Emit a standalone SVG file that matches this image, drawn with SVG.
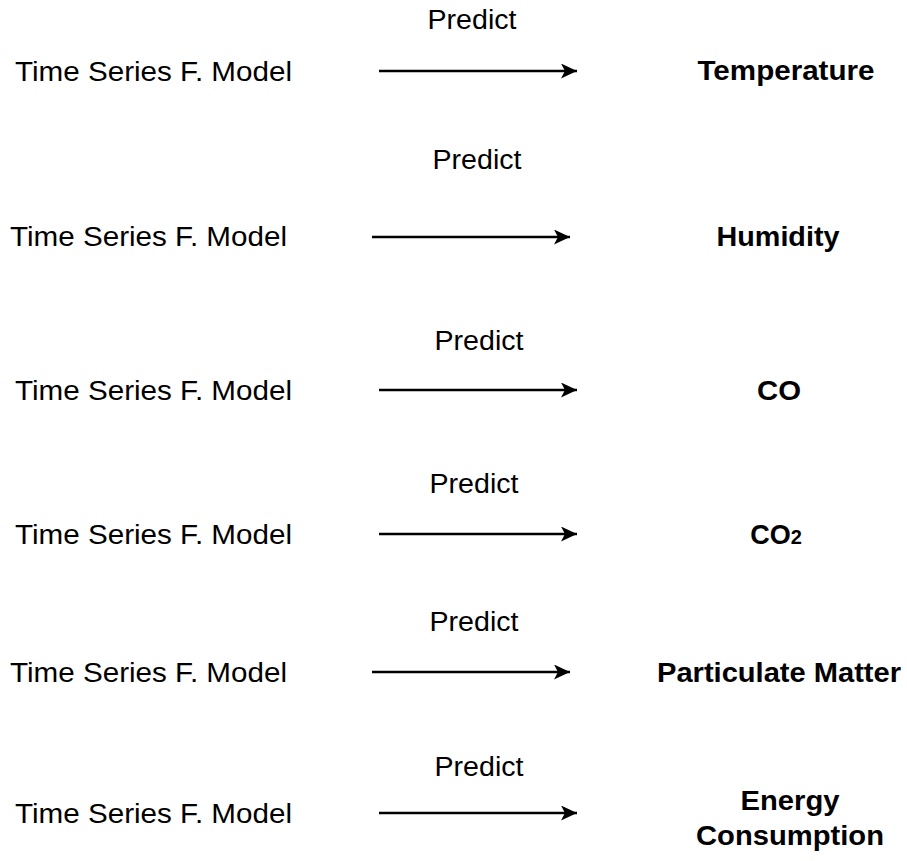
<svg xmlns="http://www.w3.org/2000/svg" width="907" height="861" viewBox="0 0 907 861">
<style>
text{font-family:"Liberation Sans",Arial,sans-serif;font-size:27px;fill:#000}
.b{font-weight:bold;text-anchor:middle}
.p{text-anchor:middle}
.c{stroke:#000;stroke-width:2.5;fill:none}
</style>
<defs>
<marker id="ah" markerWidth="17" markerHeight="15" refX="16" refY="7.5" orient="auto" markerUnits="userSpaceOnUse">
<path d="M0,0 L16,7.5 L0,15 L4,7.5 Z" fill="#000"/>
</marker>
</defs>
<rect width="907" height="861" fill="#fff"/>
<g id="connectors">
<line class="c" x1="379" y1="71" x2="577" y2="71" marker-end="url(#ah)"/>
<line class="c" x1="372" y1="237" x2="570" y2="237" marker-end="url(#ah)"/>
<line class="c" x1="379" y1="390" x2="577" y2="390" marker-end="url(#ah)"/>
<line class="c" x1="379" y1="534" x2="577" y2="534" marker-end="url(#ah)"/>
<line class="c" x1="372" y1="672" x2="570" y2="672" marker-end="url(#ah)"/>
<line class="c" x1="379" y1="813" x2="577" y2="813" marker-end="url(#ah)"/>
</g>
<g id="labels">
<text class="p" x="472" y="29" textLength="89" lengthAdjust="spacingAndGlyphs">Predict</text>
<text class="p" x="477" y="169" textLength="89" lengthAdjust="spacingAndGlyphs">Predict</text>
<text class="p" x="479" y="350" textLength="89" lengthAdjust="spacingAndGlyphs">Predict</text>
<text class="p" x="474" y="493" textLength="89" lengthAdjust="spacingAndGlyphs">Predict</text>
<text class="p" x="474" y="631" textLength="89" lengthAdjust="spacingAndGlyphs">Predict</text>
<text class="p" x="479" y="776" textLength="89" lengthAdjust="spacingAndGlyphs">Predict</text>
</g>
<g id="model1"><text x="15" y="81" textLength="277" lengthAdjust="spacingAndGlyphs">Time Series F. Model</text></g>
<g id="model2"><text x="10" y="246" textLength="277" lengthAdjust="spacingAndGlyphs">Time Series F. Model</text></g>
<g id="model3"><text x="15" y="400" textLength="277" lengthAdjust="spacingAndGlyphs">Time Series F. Model</text></g>
<g id="model4"><text x="15" y="544" textLength="277" lengthAdjust="spacingAndGlyphs">Time Series F. Model</text></g>
<g id="model5"><text x="10" y="682" textLength="277" lengthAdjust="spacingAndGlyphs">Time Series F. Model</text></g>
<g id="model6"><text x="15" y="823" textLength="277" lengthAdjust="spacingAndGlyphs">Time Series F. Model</text></g>
<g id="temperature"><text class="b" x="786" y="80" textLength="177" lengthAdjust="spacingAndGlyphs">Temperature</text></g>
<g id="humidity"><text class="b" x="778" y="246" textLength="123" lengthAdjust="spacingAndGlyphs">Humidity</text></g>
<g id="co"><text class="b" x="779" y="400" textLength="44" lengthAdjust="spacingAndGlyphs">CO</text></g>
<g id="co2"><text class="b" x="776" y="544" font-size="28">CO<tspan font-size="20">2</tspan></text></g>
<g id="pm"><text class="b" x="779" y="682" textLength="244" lengthAdjust="spacingAndGlyphs">Particulate Matter</text></g>
<g id="energy"><text class="b" x="790" y="810" textLength="99" lengthAdjust="spacingAndGlyphs">Energy</text><text class="b" x="790" y="845" textLength="188" lengthAdjust="spacingAndGlyphs">Consumption</text></g>
</svg>
